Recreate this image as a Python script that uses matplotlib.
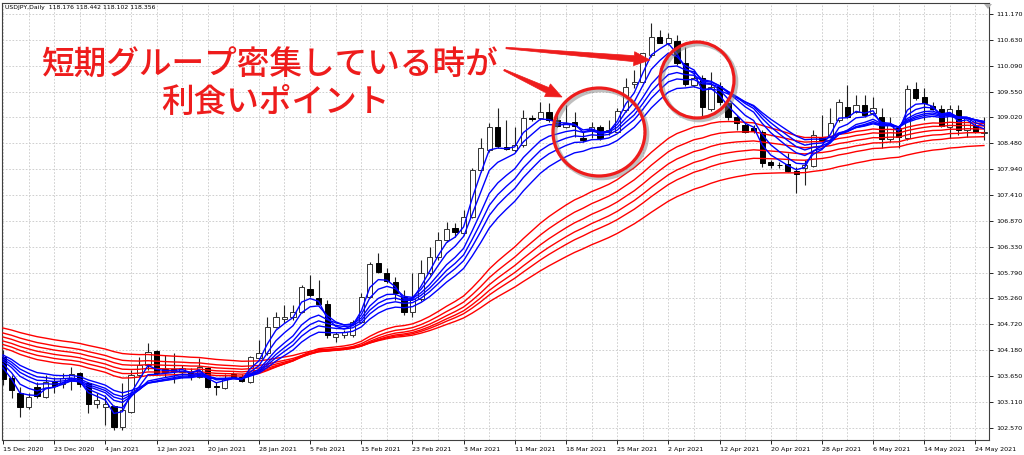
import numpy as np
import pandas as pd
import matplotlib
matplotlib.use("Agg")
import matplotlib.pyplot as plt
from matplotlib.patches import Ellipse, Polygon
import matplotlib.patheffects as pe

# ---------------- data ----------------
opens = [104.047, 103.598, 103.286, 102.995, 103.411, 103.215, 103.515, 103.479, 103.562, 103.702,
         103.494, 103.063, 103.007, 103.022, 102.592, 102.903, 103.666, 103.874, 104.165, 103.785,
         103.785, 103.735, 103.729, 103.631, 103.806, 103.444, 103.390, 103.687, 103.631, 103.527,
         104.013, 104.117, 104.670, 104.824, 104.878, 104.982, 105.448, 105.261, 105.142, 104.462,
         104.498, 104.498, 104.774, 105.294, 105.988, 105.793, 105.606, 105.294, 104.982, 105.240,
         105.780, 106.125, 106.472, 106.716, 106.612, 106.957, 107.927, 108.343, 108.827, 108.412,
         108.343, 108.447, 109.002, 109.002, 109.127, 108.967, 108.827, 108.919, 108.586, 108.759,
         108.827, 108.723, 108.723, 109.175, 109.715, 109.763, 110.318, 110.686, 110.573, 110.615,
         110.158, 109.694, 109.833, 109.189, 109.673, 109.314, 109.035, 108.863, 108.800, 108.723,
         108.100, 108.031, 108.052, 107.913, 107.969, 108.011, 108.620, 108.620, 108.967, 109.231,
         109.139, 109.278, 109.106, 109.035, 108.566, 108.794, 108.586, 109.605, 109.439, 109.258,
         109.189, 108.827, 109.175, 108.759, 108.863, 108.690]
highs = [104.186, 103.666, 103.423, 103.286, 103.527, 103.666, 103.631, 103.708, 103.839, 103.735,
         103.527, 103.286, 103.251, 103.043, 103.494, 103.770, 104.047, 104.325, 104.186, 104.082,
         104.117, 103.874, 103.812, 104.013, 103.839, 103.527, 103.687, 103.735, 103.687, 104.061,
         104.394, 104.878, 104.982, 105.121, 105.121, 105.537, 105.745, 105.641, 105.225, 104.566,
         104.602, 104.809, 105.364, 106.021, 106.196, 105.884, 105.710, 105.433, 105.786, 106.057,
         106.333, 106.645, 106.853, 106.819, 107.096, 107.963, 108.586, 108.898, 109.210, 108.967,
         108.827, 109.175, 109.071, 109.347, 109.314, 109.139, 109.278, 109.139, 108.723, 108.931,
         108.863, 108.967, 109.210, 109.833, 110.006, 110.359, 110.977, 110.837, 110.775, 110.733,
         110.490, 110.006, 109.902, 109.971, 109.763, 109.347, 109.071, 108.904, 108.863, 108.759,
         108.135, 108.094, 108.275, 107.996, 108.135, 108.759, 109.071, 109.210, 109.403, 109.694,
         109.486, 109.486, 109.451, 109.210, 109.035, 108.863, 109.694, 109.763, 109.626, 109.347,
         109.278, 109.278, 109.278, 109.035, 108.967, 109.035]
lows = [103.458, 103.188, 102.799, 102.953, 103.182, 103.182, 103.286, 103.396, 103.354, 103.423,
        102.870, 102.974, 102.627, 102.523, 102.523, 102.870, 103.631, 103.770, 103.666, 103.631,
        103.494, 103.604, 103.562, 103.598, 103.390, 103.251, 103.369, 103.598, 103.527, 103.506,
        103.978, 104.082, 104.637, 104.741, 104.809, 104.949, 105.294, 105.121, 104.429, 104.358,
        104.435, 104.456, 104.741, 105.261, 105.780, 105.579, 105.225, 104.913, 104.878, 105.204,
        105.745, 106.057, 106.437, 106.541, 106.576, 106.923, 107.892, 108.308, 108.378, 108.343,
        108.308, 108.412, 108.946, 108.967, 108.931, 108.821, 108.794, 108.620, 108.516, 108.586,
        108.551, 108.655, 108.690, 109.139, 109.632, 109.736, 110.276, 110.567, 110.526, 110.110,
        109.673, 109.653, 109.035, 109.154, 109.278, 108.967, 108.759, 108.696, 108.696, 107.996,
        107.963, 107.969, 107.892, 107.443, 107.616, 107.996, 108.509, 108.586, 108.925, 109.002,
        109.106, 109.035, 109.071, 108.378, 108.516, 108.378, 108.551, 109.382, 108.967, 109.175,
        108.827, 108.593, 108.655, 108.620, 108.690, 108.551]
closes = [103.577, 103.354, 102.995, 103.215, 103.230, 103.515, 103.444, 103.598, 103.687, 103.479,
          103.063, 103.147, 103.063, 102.592, 102.939, 103.666, 103.874, 104.151, 103.702, 103.735,
          103.756, 103.806, 103.645, 103.833, 103.423, 103.411, 103.598, 103.631, 103.548, 104.034,
          104.117, 104.670, 104.878, 104.878, 104.982, 105.502, 105.329, 105.142, 104.498, 104.512,
          104.566, 104.774, 105.294, 105.973, 105.813, 105.626, 105.364, 104.982, 105.240, 105.780,
          106.125, 106.472, 106.695, 106.645, 106.957, 107.927, 108.378, 108.827, 108.426, 108.358,
          108.447, 109.002, 108.981, 109.127, 108.967, 108.848, 108.898, 108.848, 108.551, 108.827,
          108.586, 108.759, 109.160, 109.659, 109.763, 110.353, 110.698, 110.573, 110.665, 110.145,
          109.715, 109.833, 109.231, 109.659, 109.347, 109.023, 108.898, 108.723, 108.738, 108.079,
          108.031, 108.025, 107.913, 107.844, 108.031, 108.655, 108.551, 108.898, 109.347, 109.023,
          109.278, 109.071, 109.210, 108.566, 108.863, 108.607, 109.605, 109.418, 109.326, 109.189,
          108.842, 109.189, 108.759, 109.002, 108.723, 108.723]

date_labels = ["15 Dec 2020", "23 Dec 2020", "4 Jan 2021", "12 Jan 2021", "20 Jan 2021",
               "28 Jan 2021", "5 Feb 2021", "15 Feb 2021", "23 Feb 2021", "3 Mar 2021",
               "11 Mar 2021", "18 Mar 2021", "25 Mar 2021", "2 Apr 2021", "12 Apr 2021",
               "20 Apr 2021", "28 Apr 2021", "6 May 2021", "14 May 2021", "24 May 2021"]
price_labels = ["111.170", "110.630", "110.090", "109.550", "109.020", "108.480", "107.940",
                "107.410", "106.870", "106.330", "105.790", "105.260", "104.720", "104.180",
                "103.650", "103.110", "102.570"]

# GMMA periods and the value of each EMA at the first visible bar
short_periods = [3, 5, 8, 10, 12, 15]
short_start = [103.812, 103.895, 103.957, 103.999, 104.040, 104.082]
long_periods = [30, 35, 40, 45, 50, 60]
long_start = [104.227, 104.300, 104.373, 104.456, 104.539, 104.643]

header = "USDJPY,Daily  118.176 118.442 118.102 118.356"
note_line1 = "短期グループ密集している時が"
note_line2 = "利食いポイント"

# ---------------- figure ----------------
W, H = 1024, 455
fig = plt.figure(figsize=(W / 100, H / 100), dpi=100)
fig.patch.set_facecolor("white")
ax = fig.add_axes([2 / W, 1 - 440 / H, 987 / W, 437 / H])

n = len(closes)
x = np.arange(n)
o = np.array(opens); c = np.array(closes); h = np.array(highs); l = np.array(lows)
up = c >= o

# grid
for gx in np.arange(0, n, 3):
    ax.axvline(gx, color="#c8c8c8", lw=0.6, ls=(0, (2, 2)), zorder=0)
for gy in [float(s) for s in price_labels]:
    ax.axhline(gy, color="#c8c8c8", lw=0.6, ls=(0, (2, 2)), zorder=0)

# candles
ax.vlines(x, l, h, color="#222222", lw=0.8, zorder=2)
bottom = np.minimum(o, c)
height = np.maximum(np.abs(c - o), 0.012)
ax.bar(x[up], height[up], bottom=bottom[up], width=0.62, color="white",
       edgecolor="#333333", lw=0.7, zorder=3)
ax.bar(x[~up], height[~up], bottom=bottom[~up], width=0.62, color="black",
       edgecolor="black", lw=0.7, zorder=3)

# GMMA lines
def ema(values, period, start):
    s = pd.Series([start] + list(values[1:]))
    return s.ewm(span=period, adjust=False).mean().values

for p, s0 in zip(long_periods, long_start):
    ax.plot(x, ema(closes, p, s0), color="#ff0000", lw=1.0, zorder=4)
for p, s0 in zip(short_periods, short_start):
    ax.plot(x, ema(closes, p, s0), color="#0000ff", lw=1.0, zorder=5)

ax.set_xlim(-0.117, 115.59)
ax.set_ylim(102.315, 111.399)

ax.yaxis.tick_right()
ax.set_yticks([float(s) for s in price_labels])
ax.set_yticklabels(price_labels, fontsize=4.6, family="DejaVu Sans")
ax.set_xticks(np.arange(0, 6 * len(date_labels), 6))
ax.set_xticklabels(date_labels, fontsize=4.6, family="DejaVu Sans", ha="left")
ax.tick_params(axis="both", length=3, width=0.6, pad=2, colors="black")
for sp in ax.spines.values():
    sp.set_color("#404040")
    sp.set_linewidth(0.8)

fig.text(5 / W, 1 - 7 / H, header, fontsize=4.4, va="center", ha="left",
         family="DejaVu Sans")

# small MT4 chart-shift marker at top right
fig.add_artist(Polygon([(984 / W, 1 - 4 / H), (992 / W, 1 - 4 / H), (988 / W, 1 - 9 / H)],
                       closed=True, transform=fig.transFigure, facecolor="#b0b0b0",
                       edgecolor="none"))

# ---------------- annotations ----------------
red = "#ee1c1c"
jp = ["Noto Sans CJK JP", "DejaVu Sans"]
fig.text(270 / W, 1 - 65 / H, note_line1, fontsize=23.5, color=red, ha="center",
         va="center", family=jp, weight="medium")
fig.text(275 / W, 1 - 102 / H, note_line2, fontsize=23.5, color=red, ha="center",
         va="center", family=jp, weight="medium")

shadow = [pe.SimpleLineShadow(offset=(1.5, -1.5), shadow_color="#808080", alpha=0.5, linewidth=3.2),
          pe.Normal()]
for cx, cy, rx, ry in [(599, 132, 46, 44), (697, 80, 37, 38)]:
    e = Ellipse((cx / W, 1 - cy / H), 2 * rx / W, 2 * ry / H, transform=fig.transFigure,
                fill=False, ec=red, lw=2.3, zorder=10, path_effects=shadow)
    fig.add_artist(e)

def tapered_arrow(x0, y0, x1, y1, w0, w1, hw, hl):
    d = np.array([x1 - x0, y1 - y0], float)
    u = d / np.hypot(*d)
    nrm = np.array([-u[1], u[0]])
    p0 = np.array([x0, y0], float)
    tip = np.array([x1, y1], float)
    base = tip - u * hl
    pts = [p0 + nrm * w0 / 2, base + nrm * w1 / 2, base + nrm * hw / 2, tip,
           base - nrm * hw / 2, base - nrm * w1 / 2, p0 - nrm * w0 / 2]
    pts = [(q[0] / W, 1 - q[1] / H) for q in pts]
    fig.add_artist(Polygon(pts, closed=True, transform=fig.transFigure,
                           facecolor=red, edgecolor=red, lw=0.5, zorder=10))

tapered_arrow(506, 48, 650, 60, 1.5, 6, 14, 16)
tapered_arrow(504, 70, 562, 97, 1.5, 6, 14, 16)

fig.savefig("out.png", dpi=100, facecolor="white")
